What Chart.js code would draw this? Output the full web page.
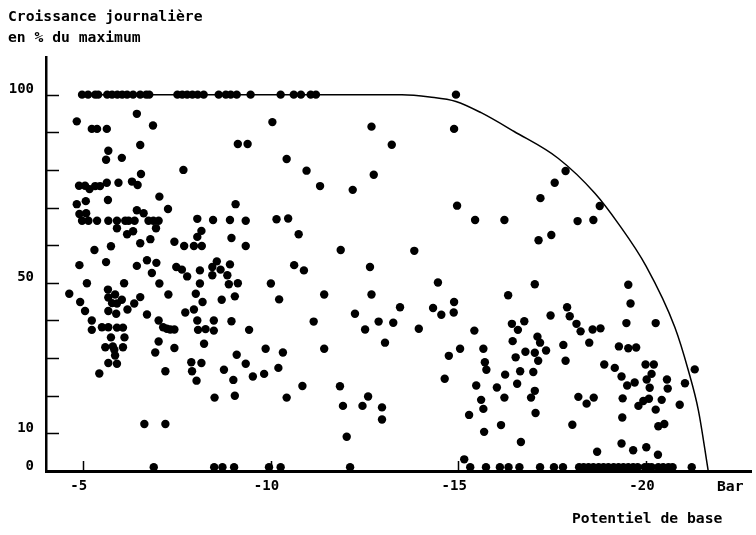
<!DOCTYPE html>
<html lang="fr">
<head>
  <meta charset="UTF-8">
  <title>Croissance journalière en fonction du potentiel de base</title>
  <script src="https://cdn.jsdelivr.net/npm/chart.js@4"></script>
  <style>
    html, body { margin: 0; padding: 0; background: #fff; }
    #wrap { width: 756px; height: 535px; }
  </style>
</head>
<body>
<div id="wrap"><canvas id="chart" width="756" height="535"></canvas></div>
<script>
// axes
const xTicks = [-20, -15, -10, -5];
const xTickLabels = ['-20', '-15', '-10', '-5'];
const yTicks = [0, 10, 50, 100];
const yMarks = [10, 20, 30, 40, 50, 60, 70, 80, 90, 100];

// enveloppe (courbe maximale)
const envelopeX = [-4.98, -8, -11, -13.5, -14.24, -14.94, -15.61, -16.49, -17.66, -18.64, -19.26, -20.0, -20.77, -21.13, -21.40, -21.66];
const envelopeY = [100, 100, 100, 100, 99.4, 98.2, 95.2, 90.2, 83.1, 73.8, 65.8, 54.5, 38.2, 26.7, 16, 0];

// points à 100 %
const topRowX = [-4.98, -5.14, -5.33, -5.41, -5.65, -5.78, -5.92, -6.05, -6.18, -6.34, -6.53, -6.69, -6.77,
  -7.52, -7.65, -7.78, -7.92, -8.06, -8.22, -8.62, -8.81, -8.94, -9.10, -9.47,
  -10.27, -10.62, -10.81, -11.07, -11.21, -14.94];
const topRowGrowth = 100;

// points à 0 %
const zeroRowX = [-6.89, -8.50, -8.72, -9.03, -9.96, -10.27, -12.12, -15.32, -15.74, -16.11, -16.34, -16.63,
  -17.18, -17.55, -17.79, -18.22, -18.34, -18.47, -18.60, -18.74, -18.87, -19.00, -19.14, -19.27, -19.40,
  -19.53, -19.66, -19.78, -19.97, -20.06, -20.15, -20.33, -20.46, -20.60, -20.71, -21.22];
const zeroRowGrowth = 1;

// nuage gauche
const leftX = [
  -4.84, -5.24, -5.38, -5.64, -6.44, -6.87, -9.13, -5.68, -5.62, -6.04, -6.53, -7.68, -6.55,
  -4.90, -5.06, -5.18, -5.33, -5.46, -5.64, -5.95, -6.31, -6.46, -7.04, -4.84, -5.08, -5.67, -7.27, -9.07, -4.91, -5.09,
  -4.98, -5.15, -5.38, -5.68, -5.91, -6.13, -6.22, -6.38, -6.75, -6.88, -7.02,
  -6.44, -6.62, -8.05, -8.47, -8.92, -5.91, -6.18, -6.34, -6.95, -8.16, -8.05, -8.96, -6.80, -6.53,
  -5.31, -5.75, -7.44, -7.70, -7.96, -8.17, -4.91, -5.62, -6.44, -6.71, -6.96, -7.49, -7.64, -8.12,
  -8.45, -8.57, -8.67, -8.92, -6.84, -7.78, -8.12, -8.45, -8.85, -8.89, -9.13, -5.11, -4.64,
  -4.93, -5.06, -5.24, -5.24, -5.51, -5.68, -5.67, -5.68, -5.86, -5.78, -5.91, -6.04, -5.68, -5.89,
  -6.10, -6.19, -6.37, -6.53, -5.91, -6.07, -5.75, -6.11, -5.60, -5.80, -5.84, -6.07, -5.86, -5.68, -5.91, -5.44,
  -6.71, -7.04, -7.28, -7.02, -7.14, -7.24, -7.33, -7.44, -7.02, -6.93, -7.44, -7.20, -6.64, -7.20,
  -7.73, -7.96, -8.01, -8.19, -8.05, -8.07, -8.27, -8.49, -8.49, -8.23, -7.89, -8.16, -7.91, -8.03,
  -8.70, -8.96, -9.05, -9.10, -8.76, -9.01, -8.51, -9.05,
  -10.05, -12.69, -9.39, -13.23, -10.43, -10.96, -12.75, -11.32, -12.19, -9.34, -9.34, -10.16, -10.47,
  -10.75, -11.87, -10.63, -10.89, -12.65, -10.01, -10.23, -11.43, -12.69, -9.43, -9.34, -9.53, -9.83,
  -9.87, -10.33, -10.21, -10.43, -10.85, -11.15, -11.43, -12.25, -12.52, -12.88, -13.27, -13.45, -13.05,
  -11.85, -11.93, -12.45, -12.60, -12.97, -12.97, -12.03
];
const leftY = [
  92.9, 90.9, 90.9, 90.9, 94.9, 91.8, 86.9, 85.1, 82.7, 83.2, 86.6, 80.0, 78.9,
  75.8, 75.8, 74.9, 75.7, 75.7, 76.6, 76.6, 76.9, 76.0, 72.9, 70.9, 71.7, 72.0, 69.6, 70.9, 68.3, 68.5,
  66.5, 66.5, 66.5, 66.5, 66.5, 66.5, 66.5, 66.5, 66.5, 66.5, 66.5,
  69.3, 68.5, 67.0, 66.7, 66.7, 64.5, 62.9, 63.7, 64.5, 63.8, 62.2, 61.9, 61.6, 60.5,
  58.7, 59.7, 60.9, 59.8, 59.8, 59.8, 54.7, 55.5, 54.5, 56.0, 55.3, 54.2, 53.5, 53.3,
  54.2, 55.7, 53.5, 54.9, 52.6, 51.7, 49.8, 52.0, 52.0, 49.6, 49.9, 49.9, 47.1,
  44.9, 42.5, 40.0, 37.5, 38.2, 38.2, 48.2, 46.1, 46.9, 44.6, 44.5, 45.5, 42.5, 41.8,
  49.9, 42.9, 44.5, 46.2, 38.1, 38.1, 35.5, 35.5, 32.9, 33.1, 32.2, 32.9, 30.7, 28.7, 28.5, 25.9,
  41.6, 49.8, 46.9, 40.0, 38.2, 37.8, 37.6, 37.6, 34.4, 31.5, 32.7, 26.5, 12.5, 12.5,
  42.1, 42.9, 47.1, 44.9, 40.0, 37.5, 37.7, 37.3, 40.0, 33.8, 28.9, 28.7, 26.5, 24.0,
  45.5, 39.8, 46.4, 30.9, 26.9, 24.2, 19.5, 20.0,
  92.7, 91.5, 86.9, 86.7, 82.9, 79.8, 78.7, 75.7, 74.7, 66.5, 59.8, 66.9, 67.1,
  62.9, 58.7, 54.7, 53.3, 54.2, 49.8, 45.6, 46.9, 46.9, 37.5, 28.5, 25.1, 25.8,
  32.5, 31.5, 27.4, 19.5, 22.6, 39.7, 32.5, 41.8, 37.6, 39.7, 39.4, 43.5, 34.1,
  22.5, 17.3, 17.3, 19.8, 16.9, 13.7, 9.1
];

// nuage droit
const rightX = [
  -14.89, -17.86, -17.57, -17.19, -18.18, -14.97, -15.45, -16.23, -17.14, -17.48, -13.83,
  -14.46, -17.04, -16.33, -14.33, -14.55, -14.89, -14.88, -13.95, -15.43, -16.43, -16.59, -16.76,
  -17.46, -17.90, -17.97, -18.15, -18.26, -17.11, -17.18, -17.34, -16.45, -17.80, -17.86,
  -15.05, -14.75, -15.67, -15.71, -15.75, -16.53, -16.79, -17.04, -17.13, -16.65, -17.00, -16.25,
  -14.64, -15.48, -16.03, -16.57, -15.61, -15.67, -16.23, -17.04, -16.94, -18.20, -15.29, -17.06,
  -18.04, -16.14, -15.69, -16.67, -15.16,
  -18.77, -18.60, -19.53, -19.59, -18.58, -18.79, -19.48, -20.26, -18.49, -19.28, -19.53, -19.74,
  -18.89, -19.17, -19.35, -19.50, -19.70, -19.99, -20.21, -20.15, -20.02, -20.10, -20.56, -20.58,
  -21.04, -21.30, -18.42, -18.61, -19.38, -19.80, -19.93, -20.08, -20.26, -20.42, -20.90,
  -19.37, -20.33, -20.49, -19.35, -19.66, -20.01, -20.32, -18.70
];
const rightY = [
  90.9, 79.7, 76.6, 72.5, 66.4, 70.5, 66.7, 66.7, 61.3, 62.7, 58.5,
  50.1, 49.6, 46.7, 43.3, 41.5, 44.9, 42.1, 37.8, 37.3, 39.1, 37.5, 39.8,
  41.3, 43.5, 41.1, 39.1, 37.1, 35.7, 34.1, 32.0, 34.5, 33.5, 29.3,
  32.5, 30.6, 32.5, 28.9, 26.9, 30.2, 31.7, 31.4, 29.3, 26.5, 26.3, 25.6,
  24.5, 22.7, 22.2, 23.2, 18.9, 16.5, 19.5, 21.3, 19.5, 19.7, 14.9, 15.4,
  12.3, 12.2, 10.4, 7.7, 3.1,
  70.4, 66.7, 49.5, 44.5, 37.6, 37.9, 39.3, 39.3, 34.1, 33.1, 32.6, 32.8,
  28.3, 27.4, 25.1, 22.7, 23.5, 28.3, 28.3, 25.8, 24.3, 22.1, 24.3, 21.9,
  23.3, 27.0, 17.9, 19.5, 19.3, 17.3, 18.6, 19.2, 16.3, 18.9, 17.6,
  14.2, 11.9, 12.5, 7.3, 5.5, 6.3, 4.3, 5.1
];

const FONT = "'DejaVu Sans Mono', monospace";
Chart.defaults.font.family = FONT;
Chart.defaults.color = '#000';

const pts = (xs, ys) => xs.map((x, i) => ({ x: x, y: Array.isArray(ys) ? ys[i] : ys }));
const dotStyle = { backgroundColor: '#000', borderWidth: 0, pointRadius: 4.2, pointHoverRadius: 4.2 };

// petits traits vers l'intérieur + textes libres
const framePlugin = {
  id: 'frame',
  afterDraw(chart) {
    const { ctx, chartArea: a, scales: { x, y } } = chart;
    ctx.save();
    ctx.strokeStyle = '#000';
    ctx.lineWidth = 1.5;
    ctx.beginPath();
    yMarks.forEach(v => {
      const py = Math.round(y.getPixelForValue(v)) + 0.5;
      ctx.moveTo(a.left, py);
      ctx.lineTo(a.left + 13, py);
    });
    xTicks.forEach(v => {
      const px = Math.round(x.getPixelForValue(v)) + 0.5;
      ctx.moveTo(px, a.bottom);
      ctx.lineTo(px, a.bottom - 10);
    });
    ctx.stroke();

    ctx.fillStyle = '#000';
    ctx.font = 'bold 14.7px ' + FONT;
    ctx.textAlign = 'left';
    ctx.textBaseline = 'alphabetic';
    ctx.fillText('Croissance journalière', 8, 20.5);
    ctx.fillText('en % du maximum', 8, 41.5);
    ctx.fillText('Bar', 717, 491);
    ctx.fillText('Potentiel de base', 572, 523);
    ctx.restore();
  }
};

new Chart(document.getElementById('chart'), {
  type: 'scatter',
  data: {
    datasets: [
      {
        type: 'line',
        data: pts(envelopeX, envelopeY),
        borderColor: '#000',
        borderWidth: 1.5,
        pointRadius: 0,
        fill: false,
        cubicInterpolationMode: 'monotone'
      },
      Object.assign({ data: pts(topRowX, topRowGrowth) }, dotStyle),
      Object.assign({ data: pts(zeroRowX, zeroRowGrowth) }, dotStyle),
      Object.assign({ data: pts(leftX, leftY) }, dotStyle),
      Object.assign({ data: pts(rightX, rightY) }, dotStyle)
    ]
  },
  options: {
    responsive: false,
    animation: false,
    layout: { padding: { top: 57, right: 4, bottom: 34, left: 0 } },
    plugins: { legend: { display: false }, tooltip: { enabled: false } },
    scales: {
      x: {
        type: 'linear',
        reverse: true,
        min: -22.82,
        max: -4.02,
        afterBuildTicks: s => { s.ticks = xTicks.map(v => ({ value: v })); },
        afterFit: s => { s.height = 30; },
        grid: { display: false, drawTicks: false },
        border: { display: true, color: '#000', width: 3 },
        ticks: {
          callback: v => xTickLabels[xTicks.indexOf(v)],
          font: { size: 14, weight: 'bold' },
          color: '#000',
          padding: 7,
          labelOffset: -4,
          maxRotation: 0,
          autoSkip: false
        }
      },
      y: {
        type: 'linear',
        min: 0,
        max: 110,
        afterBuildTicks: s => { s.ticks = yTicks.map(v => ({ value: v })); },
        afterFit: s => { s.width = 46; },
        grid: { display: false, drawTicks: false },
        border: { display: true, color: '#000', width: 2.5 },
        ticks: {
          font: { size: 14, weight: 'bold' },
          color: '#000',
          padding: 12,
          labelOffset: -5
        }
      }
    }
  },
  plugins: [framePlugin]
});
</script>
</body>
</html>
